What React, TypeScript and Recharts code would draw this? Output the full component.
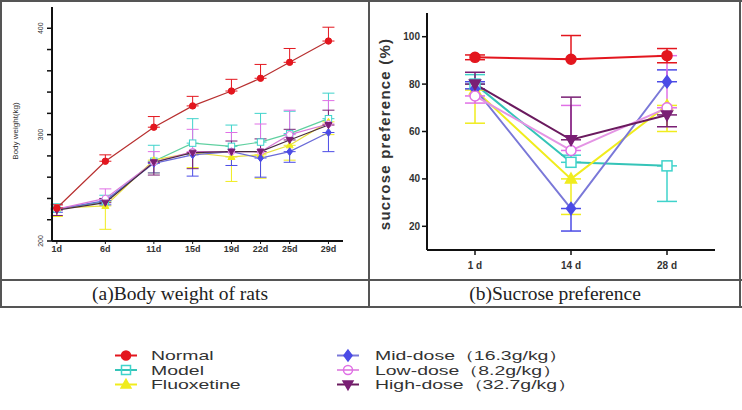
import React from "react";
import { ErrorBar, Line, LineChart, XAxis, YAxis } from "recharts";

// (a) body weight of rats
const bwDays = [1, 6, 11, 15, 19, 22, 25, 29];
const bwTicks = [200, 220, 240, 260, 280, 300, 320, 340, 360, 380, 400];
const bwNormal = [231, 275, 307, 327, 341, 353, 368, 388];
const bwModel = [230, 237, 275, 292, 289, 293, 301, 315];
const bwFluoxetine = [231, 233, 276, 283, 279, 281, 290, 312];
const bwMid = [230, 238, 273, 281, 284, 278, 284, 302];
const bwLow = [230, 240, 274, 284, 284, 284, 300, 310];
const bwHigh = [229, 236, 274, 283, 284, 284, 295, 309];
// error as [below, above]
const bwNormalErr = [[0, 3], [0, 6], [0, 10], [0, 9], [0, 11], [0, 13], [0, 13], [0, 13]];
const bwModelErr = [[0, 5], [0, 6], [0, 15], [0, 23], [0, 20], [0, 27], [0, 21], [0, 24]];
const bwFluoxetineErr = [[8, 0], [22, 0], [12, 0], [14, 0], [23, 0], [22, 0], [14, 0], [12, 0]];
const bwMidErr = [[3, 0], [4, 0], [9, 0], [20, 0], [13, 0], [18, 0], [10, 0], [18, 0]];
const bwLowErr = [[0, 4], [0, 9], [0, 10], [0, 21], [0, 18], [0, 26], [0, 23], [0, 22]];
const bwHighErr = [[5, 0], [0, 4], [12, 0], [15, 0], [0, 10], [0, 12], [0, 10], [0, 14]];

// (b) sucrose preference
const spDays = ["1 d", "14 d", "28 d"];
const spTicks = [20, 40, 60, 80, 100];
const spNormal = [91.3, 90.5, 92];
const spModel = [80, 47, 45.5];
const spFluoxetine = [77.5, 40, 71];
const spMid = [78, 27.5, 81];
const spLow = [75, 52, 70];
const spHigh = [80, 56.5, 67];
const spNormalErr = [[1, 1], [0, 10], [3, 3]];
const spModelErr = [[0, 4], [0, 3], [15, 0]];
const spFluoxetineErr = [[14, 0], [15, 0], [11, 0]];
const spMidErr = [[0, 3], [9.5, 0], [0, 5]];
const spLowErr = [[3, 0], [0, 19], [0, 22]];
const spHighErr = [[0, 5], [0, 18], [5, 0]];

const groups = [
  { key: "model", name: "Model", shape: "square", color: "#3fd3cb", fill: "#fff", bwLine: "#5fd0a0", spLine: "#35c4b8" },
  { key: "fluoxetine", name: "Fluoxetine", shape: "up", color: "#f0ec1e", fill: "#f0ec1e", bwLine: "#e8e040", spLine: "#f0ec1e" },
  { key: "mid", name: "Mid-dose（16.3g/kg）", shape: "diamond", color: "#4b4be6", fill: "#4b4be6", bwLine: "#6a6ad8", spLine: "#7a78d8" },
  { key: "low", name: "Low-dose（8.2g/kg）", shape: "circle", color: "#e070e6", fill: "#fff", bwLine: "#d878d8", spLine: "#e494e4" },
  { key: "high", name: "High-dose（32.7g/kg）", shape: "down", color: "#7a1f74", fill: "#7a1f74", bwLine: "#4a2a40", spLine: "#6a1a5e" },
  { key: "normal", name: "Normal", shape: "circle", color: "#e3161e", fill: "#e3161e", bwLine: "#b83030", spLine: "#e3161e" },
];

const legendLeft = ["normal", "model", "fluoxetine"];
const legendRight = ["mid", "low", "high"];

const bwSeries: Record<string, number[]> = { normal: bwNormal, model: bwModel, fluoxetine: bwFluoxetine, mid: bwMid, low: bwLow, high: bwHigh };
const bwErrors: Record<string, number[][]> = { normal: bwNormalErr, model: bwModelErr, fluoxetine: bwFluoxetineErr, mid: bwMidErr, low: bwLowErr, high: bwHighErr };
const spSeries: Record<string, number[]> = { normal: spNormal, model: spModel, fluoxetine: spFluoxetine, mid: spMid, low: spLow, high: spHigh };
const spErrors: Record<string, number[][]> = { normal: spNormalErr, model: spModelErr, fluoxetine: spFluoxetineErr, mid: spMidErr, low: spLowErr, high: spHighErr };

const bwData = bwDays.map((day, i) => {
  const row: any = { day };
  groups.forEach((g) => {
    row[g.key] = bwSeries[g.key][i];
    row[g.key + "Err"] = bwErrors[g.key][i];
  });
  return row;
});

const spData = spDays.map((day, i) => {
  const row: any = { day };
  groups.forEach((g) => {
    row[g.key] = spSeries[g.key][i];
    row[g.key + "Err"] = spErrors[g.key][i];
  });
  return row;
});

const Marker = ({ shape, cx, cy, r, stroke, fill, sw = 1.2 }: any) => {
  if (cx == null || cy == null) return null;
  if (shape === "square")
    return <rect x={cx - r} y={cy - r} width={2 * r} height={2 * r} fill={fill} stroke={stroke} strokeWidth={sw} />;
  if (shape === "up")
    return <polygon points={`${cx},${cy - r * 1.15} ${cx + r * 1.1},${cy + r * 0.8} ${cx - r * 1.1},${cy + r * 0.8}`} fill={fill} stroke={stroke} strokeWidth={sw} />;
  if (shape === "down")
    return <polygon points={`${cx},${cy + r * 1.15} ${cx + r * 1.1},${cy - r * 0.8} ${cx - r * 1.1},${cy - r * 0.8}`} fill={fill} stroke={stroke} strokeWidth={sw} />;
  if (shape === "diamond")
    return <polygon points={`${cx},${cy - r * 1.2} ${cx + r * 0.9},${cy} ${cx},${cy + r * 1.2} ${cx - r * 0.9},${cy}`} fill={fill} stroke={stroke} strokeWidth={sw} />;
  return <circle cx={cx} cy={cy} r={r} fill={fill} stroke={stroke} strokeWidth={sw} />;
};

const dotFor = (g: any, r: number, sw: number) => (props: any) => (
  <Marker key={`${g.key}-${props.index}`} shape={g.shape} cx={props.cx} cy={props.cy} r={r} stroke={g.color} fill={g.fill} sw={sw} />
);

const LeftYTick = (props: any) => {
  const { y, payload } = props;
  const v = payload.value;
  if (v !== 200 && v !== 300 && v !== 400) return null;
  return (
    <text x={43} y={y} transform={`rotate(-90, 43, ${y})`} textAnchor="middle" fontSize={7} fill="#333">
      {v}
    </text>
  );
};

const axisStyle = { stroke: "#111", strokeWidth: 2 };
const sans = "'Liberation Sans', Arial, sans-serif";

export default function App() {
  return (
    <div style={{ position: "absolute", left: 0, top: 0, width: 742, height: 410, background: "#fff", fontFamily: sans }}>
      <div style={{ position: "absolute", left: 0, top: 0 }}>
        <LineChart width={369} height={280} data={bwData} margin={{ top: 7, right: 26, bottom: 0, left: 0 }}>
          <XAxis
            dataKey="day"
            type="number"
            domain={[0.5, 30.5]}
            ticks={bwDays}
            interval={0}
            tickFormatter={(d) => `${d}d`}
            height={39}
            tickSize={3}
            tickMargin={2}
            axisLine={axisStyle}
            tickLine={{ stroke: "#111" }}
            tick={{ fontSize: 9, fill: "#333", fontWeight: "bold" }}
          />
          <YAxis
            domain={[200, 420]}
            ticks={bwTicks}
            interval={0}
            width={52}
            tickSize={5}
            axisLine={axisStyle}
            tickLine={{ stroke: "#111", strokeWidth: 1.5 }}
            tick={<LeftYTick />}
          />
          {groups.map((g) => (
            <Line
              key={g.key}
              dataKey={g.key}
              type="linear"
              stroke={g.bwLine}
              strokeWidth={1.2}
              dot={dotFor(g, 3.2, 1)}
              isAnimationActive={false}
            >
              <ErrorBar dataKey={g.key + "Err"} direction="y" width={6} stroke={g.color} strokeWidth={1} isAnimationActive={false} />
            </Line>
          ))}
        </LineChart>
      </div>
      <div style={{ position: "absolute", left: 369, top: 0 }}>
        <LineChart width={373} height={280} data={spData} margin={{ top: 13, right: 27, bottom: 0, left: 0 }}>
          <XAxis
            dataKey="day"
            padding={{ left: 48, right: 48 }}
            height={30}
            tickSize={5}
            tickMargin={7}
            axisLine={axisStyle}
            tickLine={{ stroke: "#111", strokeWidth: 1.5 }}
            tick={{ fontSize: 10, fill: "#333", fontWeight: "bold" }}
          />
          <YAxis
            domain={[10, 110]}
            ticks={spTicks}
            interval={0}
            width={58}
            tickSize={5}
            tickMargin={2}
            axisLine={axisStyle}
            tickLine={{ stroke: "#111", strokeWidth: 1.5 }}
            tick={{ fontSize: 10, fill: "#333", fontWeight: "bold" }}
          />
          {groups.map((g) => (
            <Line
              key={g.key}
              dataKey={g.key}
              type="linear"
              stroke={g.spLine}
              strokeWidth={2}
              dot={dotFor(g, 5, 1.5)}
              isAnimationActive={false}
            >
              <ErrorBar dataKey={g.key + "Err"} direction="y" width={10} stroke={g.color} strokeWidth={1.5} isAnimationActive={false} />
            </Line>
          ))}
        </LineChart>
      </div>
      <svg width={742} height={410} style={{ position: "absolute", left: 0, top: 0, pointerEvents: "none" }}>
        <g stroke="#555" strokeWidth={2}>
          <line x1={0} y1={1} x2={742} y2={1} />
          <line x1={1} y1={0} x2={1} y2={308} />
          <line x1={740} y1={0} x2={740} y2={308} />
          <line x1={369} y1={0} x2={369} y2={308} />
          <line x1={0} y1={280} x2={742} y2={280} />
          <line x1={0} y1={307} x2={742} y2={307} />
        </g>
        <text x={18} y={131} transform="rotate(-90, 18, 131)" textAnchor="middle" fontSize={8} fill="#333">
          Body weight(kg)
        </text>
        <text x={390} y={134} transform="rotate(-90, 390, 134)" textAnchor="middle" fontSize={15} fontWeight="bold" letterSpacing={1.2} fill="#333">
          sucrose preference (%)
        </text>
        <text x={180} y={300} textAnchor="middle" fontFamily="'Liberation Serif', 'Times New Roman', serif" fontSize={19.5} fill="#222">
          (a)Body weight of rats
        </text>
        <text x={555} y={300} textAnchor="middle" fontFamily="'Liberation Serif', 'Times New Roman', serif" fontSize={19.5} fill="#222">
          (b)Sucrose preference
        </text>
        {[legendLeft, legendRight].map((col, ci) =>
          col.map((key, ri) => {
            const g = groups.find((s) => s.key === key)!;
            const mx = ci === 0 ? 126 : 348;
            const tx = ci === 0 ? 151 : 375;
            const cy = [355.5, 370, 384.5][ri];
            return (
              <g key={key}>
                <line x1={mx - 11} y1={cy} x2={mx + 11} y2={cy} stroke={g.spLine} strokeWidth={2} />
                <Marker shape={g.shape} cx={mx} cy={cy} r={4.5} stroke={g.color} fill={g.fill === "#fff" ? "none" : g.fill} sw={1.5} />
                <g transform={`translate(${tx}, ${cy + 4.8}) scale(1.52, 1)`}>
                  <text x={0} y={0} fontSize={12.8} fill="#333">
                    {g.name}
                  </text>
                </g>
              </g>
            );
          })
        )}
      </svg>
    </div>
  );
}
